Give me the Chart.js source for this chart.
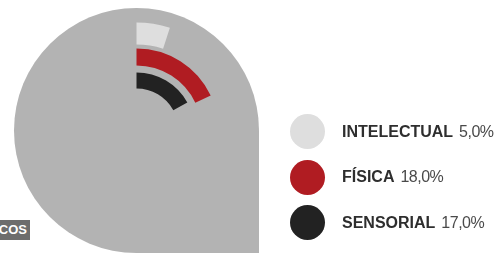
<!DOCTYPE html>
<html>
<head>
<meta charset="utf-8">
<script src="https://cdn.jsdelivr.net/npm/chart.js"></script>
<style>
  html, body { margin: 0; padding: 0; background: #fff; overflow: hidden; }
  #wrap { position: relative; width: 502px; height: 255px; overflow: hidden; }
  #chart { position: absolute; left: 0; top: 0; }
  #legend { position: absolute; left: 290px; top: 109px; font-family: 'Liberation Sans', Arial, sans-serif; color: #2e2e2e; white-space: nowrap; }
  .item { display: flex; align-items: center; height: 45.5px; }
  .dot { width: 35px; height: 35px; border-radius: 50%; margin-right: 17px; flex: none; }
  .lab { font-weight: bold; font-size: 16px; letter-spacing: 0px; }
  .val { font-weight: normal; font-size: 16px; letter-spacing: -0.5px; margin-left: 6px; color: #4a4a4a; }
  #tag { position: absolute; left: -3px; top: 220px; width: 33px; height: 20px; background: #6d6d6d; color: #fff;
         font: bold 13px 'Liberation Sans', Arial, sans-serif; line-height: 20px; text-align: right; box-sizing: border-box; padding-right: 3px; }
</style>
</head>
<body>
<div id="wrap">
  <canvas id="chart" width="502" height="255"></canvas>
  <div id="legend"></div>
  <div id="tag">COS</div>
</div>
<script>
const categories = ['INTELECTUAL', 'FÍSICA', 'SENSORIAL'];
const values = [5.0, 18.0, 17.0];
const colors = ['#dedede', '#b01c22', '#222222'];

// fundo cinza em forma de gota
const backdrop = {
  id: 'backdrop',
  beforeDatasetsDraw(chart) {
    const a = chart.chartArea;
    const cx = (a.left + a.right) / 2, cy = (a.top + a.bottom) / 2;
    const R = 122.5;
    const ctx = chart.ctx;
    ctx.save();
    ctx.fillStyle = '#b3b3b3';
    ctx.beginPath();
    ctx.moveTo(cx + R, cy);
    ctx.arc(cx, cy, R, 0, Math.PI / 2, true);
    ctx.lineTo(cx + R, cy + R);
    ctx.closePath();
    ctx.fill();
    ctx.restore();
  }
};

const weights = [22, 4, 17, 7, 16];
const datasets = [];
values.forEach((v, i) => {
  datasets.push({
    data: [v, 100 - v],
    backgroundColor: [colors[i], 'rgba(0,0,0,0)'],
    borderWidth: 0,
    weight: weights[i * 2]
  });
  if (i < values.length - 1) {
    datasets.push({ data: [100], backgroundColor: ['rgba(0,0,0,0)'], borderWidth: 0, weight: weights[i * 2 + 1] });
  }
});

new Chart(document.getElementById('chart'), {
  type: 'doughnut',
  data: { labels: [], datasets: datasets },
  options: {
    responsive: false,
    animation: false,
    events: [],
    radius: 108,
    cutout: 42,
    layout: { padding: { left: 28.5, right: 257.5, top: 22.5, bottom: 16.5 } },
    plugins: { legend: { display: false }, tooltip: { enabled: false } }
  },
  plugins: [backdrop]
});

const legend = document.getElementById('legend');
categories.forEach((c, i) => {
  const row = document.createElement('div');
  row.className = 'item';
  row.innerHTML = '<span class="dot" style="background:' + colors[i] + '"></span>' +
    '<span class="lab">' + c + '</span><span class="val">' + values[i].toFixed(1).replace('.', ',') + '%</span>';
  legend.appendChild(row);
});
</script>
</body>
</html>
